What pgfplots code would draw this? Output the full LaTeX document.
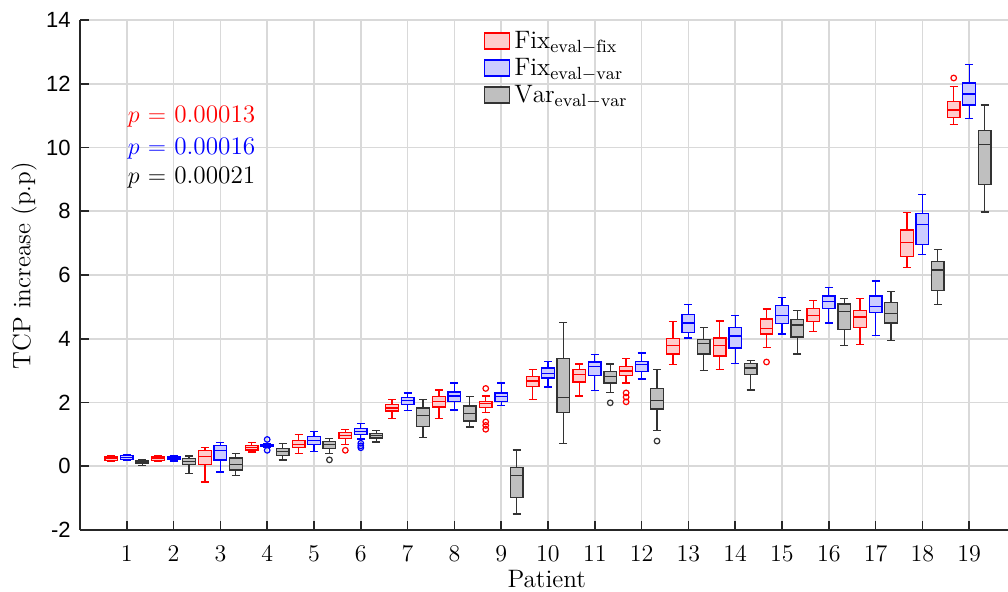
\documentclass[border=0pt]{standalone}
\usepackage{fontspec}
\usepackage{pgfplots}
\usepackage{pgfplotstable}
\pgfplotsset{compat=1.18}
\usepgfplotslibrary{statistics}
\newfontfamily\arialfont{Liberation Sans}

% five-number summaries per patient: lower whisker, quartiles, median, upper whisker
\pgfplotstableread{
pat lw q1 med q3 uw
1 0.14 0.19 0.24 0.29 0.33
2 0.15 0.19 0.24 0.29 0.34
3 -0.49 0.05 0.30 0.50 0.59
4 0.45 0.51 0.58 0.66 0.74
5 0.40 0.58 0.69 0.81 1.00
6 0.69 0.88 0.97 1.05 1.16
7 1.50 1.73 1.83 1.94 2.09
8 1.50 1.86 2.04 2.18 2.39
9 1.68 1.85 1.97 2.04 2.20
10 2.09 2.51 2.67 2.82 3.03
11 2.20 2.64 2.88 3.03 3.21
12 2.61 2.84 2.99 3.13 3.39
13 3.19 3.52 3.78 4.00 4.54
14 3.03 3.46 3.78 4.02 4.56
15 3.73 4.15 4.33 4.62 4.93
16 4.23 4.54 4.73 4.94 5.20
17 3.81 4.35 4.68 4.89 5.27
18 6.24 6.57 7.03 7.41 7.95
19 10.72 10.93 11.18 11.44 11.92
}\fixfix

\pgfplotstableread{
pat lw q1 med q3 uw
1 0.19 0.22 0.27 0.33 0.36
2 0.16 0.21 0.26 0.29 0.33
3 -0.18 0.20 0.50 0.64 0.74
4 0.58 0.61 0.64 0.67 0.71
5 0.46 0.69 0.81 0.93 1.08
6 0.85 1.00 1.09 1.18 1.34
7 1.75 1.94 2.06 2.15 2.30
8 1.76 2.04 2.20 2.33 2.61
9 1.91 2.04 2.18 2.30 2.61
10 2.49 2.77 2.92 3.08 3.29
11 2.38 2.85 3.13 3.27 3.50
12 2.74 2.98 3.19 3.29 3.55
13 4.02 4.20 4.49 4.75 5.08
14 3.22 3.71 4.09 4.35 4.73
15 4.15 4.47 4.72 5.04 5.30
16 4.49 4.94 5.17 5.34 5.60
17 4.10 4.83 5.01 5.34 5.81
18 6.65 6.96 7.59 7.93 8.52
19 10.92 11.33 11.68 12.02 12.61
}\fixvar

\pgfplotstableread{
pat lw q1 med q3 uw
1 0.03 0.09 0.13 0.19 0.22
2 -0.22 0.05 0.15 0.24 0.32
3 -0.30 -0.12 0.06 0.26 0.39
4 0.20 0.34 0.46 0.55 0.72
5 0.41 0.55 0.69 0.77 0.86
6 0.76 0.89 0.97 1.03 1.13
7 0.90 1.24 1.60 1.83 2.09
8 1.23 1.42 1.65 1.89 2.18
9 -1.50 -0.98 -0.30 -0.04 0.51
10 0.72 1.68 2.15 3.38 4.51
11 2.32 2.61 2.82 2.98 3.21
12 1.12 1.80 2.07 2.43 3.03
13 3.00 3.52 3.86 3.97 4.36
14 2.39 2.88 3.08 3.22 3.32
15 3.52 4.05 4.43 4.60 4.89
16 3.78 4.28 4.85 5.09 5.27
17 3.94 4.49 4.80 5.13 5.48
18 5.08 5.51 6.16 6.42 6.80
19 7.98 8.84 10.09 10.53 11.33
}\varvar

% outlying values
\pgfplotstableread{
pat val
6 0.50
9 2.44
9 1.39
9 1.28
9 1.16
12 2.30
12 2.17
12 2.02
15 3.27
19 12.18
}\fixfixout

\pgfplotstableread{
pat val
4 0.84
4 0.50
6 0.72
6 0.64
6 0.58
}\fixvarout

\pgfplotstableread{
pat val
5 0.20
11 1.99
12 0.79
}\varvarout

% one box per table row, shifted by #2 from the patient position
\newcommand\drawboxes[3]{%
  \pgfplotstablegetrowsof{#1}%
  \pgfmathtruncatemacro\nrows{\pgfplotsretval-1}%
  \pgfplotsforeachungrouped \rowidx in {0,...,\nrows}{%
    \pgfplotstablegetelem{\rowidx}{pat}\of#1%
    \pgfmathsetmacro\bpos{\pgfplotsretval+#2}%
    \pgfplotstablegetelem{\rowidx}{lw}\of#1\let\blw\pgfplotsretval
    \pgfplotstablegetelem{\rowidx}{q1}\of#1\let\bqa\pgfplotsretval
    \pgfplotstablegetelem{\rowidx}{med}\of#1\let\bmed\pgfplotsretval
    \pgfplotstablegetelem{\rowidx}{q3}\of#1\let\bqb\pgfplotsretval
    \pgfplotstablegetelem{\rowidx}{uw}\of#1\let\buw\pgfplotsretval
    \edef\next{\noexpand\addplot[#3, boxplot prepared={draw position=\bpos,
      lower whisker=\blw, lower quartile=\bqa, median=\bmed,
      upper quartile=\bqb, upper whisker=\buw}] coordinates {};}%
    \next
  }%
}

\pgfplotsset{
  boxred/.style={draw=red, fill=red!20, line width=0.65pt},
  boxblue/.style={draw=blue, fill=blue!20, line width=0.65pt},
  boxgray/.style={draw=black!80, fill=black!25, line width=0.65pt},
}

\begin{document}
\begin{tikzpicture}
\begin{axis}[
  at={(0,0)}, anchor=south west,
  width=464pt, height=255pt, scale only axis,
  xmin=0, xmax=19.83, ymin=-2, ymax=14,
  axis x line=bottom, axis y line=left,
  axis line style={-, black!85, line width=0.8pt},
  xtick={1,...,19}, ytick={-2,0,...,14},
  yticklabels={-2,0,2,4,6,8,10,12,14},
  tick align=inside, major tick length=4.5pt,
  tick style={black!85, line width=0.8pt},
  grid=major, major grid style={black!15, line width=0.8pt},
  xticklabel style={font=\fontsize{11.5}{13}\selectfont, anchor=base, yshift=-16pt},
  yticklabel style={font=\arialfont\fontsize{11}{13}\selectfont, anchor=east, inner sep=0pt, xshift=-4.5pt},
  xlabel={Patient}, ylabel={TCP increase (p.p)},
  every axis x label/.style={at={(axis description cs:0.503,-0.1118)}, anchor=base, font=\fontsize{12.6}{15}\selectfont},
  every axis y label/.style={at={(axis description cs:-0.0603,0.518)}, rotate=90, anchor=center, font=\fontsize{12.6}{15}\selectfont},
  boxplot/draw direction=y,
  boxplot/box extend=0.27,
  boxplot/whisker extend=0.17,
  legend style={at={(axis description cs:0.435,0.987)}, anchor=north west,
    draw=none, fill=none, font=\fontsize{12.6}{15}\selectfont,
    inner sep=0pt, row sep=-0.6pt, column sep=0pt},
  legend cell align=left,
  legend image code/.code={\draw[#1, line width=0.6pt] (0pt,-4pt) rectangle (12.5pt,4pt);},
]
\addlegendimage{draw=red, fill=red!20}
\addlegendentry{$\mathrm{Fix}_{\mathrm{eval-fix}}$}
\addlegendimage{draw=blue, fill=blue!20}
\addlegendentry{$\mathrm{Fix}_{\mathrm{eval-var}}$}
\addlegendimage{draw=black!80, fill=black!25}
\addlegendentry{$\mathrm{Var}_{\mathrm{eval-var}}$}

\drawboxes{\fixfix}{-0.33}{boxred}
\drawboxes{\fixvar}{0}{boxblue}
\drawboxes{\varvar}{0.33}{boxgray}

\addplot[only marks, mark=o, mark size=1.4pt, red, line width=0.6pt]
  table[x expr=\thisrow{pat}-0.33, y=val] {\fixfixout};
\addplot[only marks, mark=o, mark size=1.4pt, blue, line width=0.6pt]
  table[x=pat, y=val] {\fixvarout};
\addplot[only marks, mark=o, mark size=1.4pt, black!80, line width=0.6pt]
  table[x expr=\thisrow{pat}+0.33, y=val] {\varvarout};

\node[anchor=base west, text=red, font=\fontsize{12.6}{15}\selectfont] at (axis cs:0.87,10.77) {$p$ $=$ 0.00013};
\node[anchor=base west, text=blue, font=\fontsize{12.6}{15}\selectfont] at (axis cs:0.87,9.78) {$p$ $=$ 0.00016};
\node[anchor=base west, text=black, font=\fontsize{12.6}{15}\selectfont] at (axis cs:0.87,8.88) {$p$ $=$ 0.00021};
\end{axis}
\pgfresetboundingbox
\path (-40pt,-31pt) rectangle (464pt,265pt);
\end{tikzpicture}
\end{document}
